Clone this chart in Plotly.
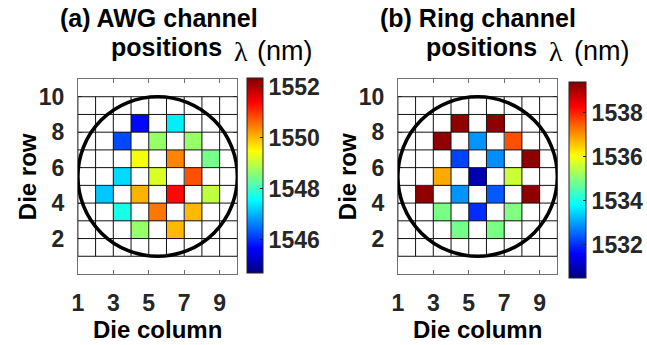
import plotly.graph_objects as go

# Die positions on the wafer (left edge of each die cell)
die_col = [4, 6, 3, 5, 7, 4, 6, 8, 3, 5, 7, 2, 4, 6, 8, 3, 5, 7, 4, 6]
die_row = [8, 8, 7, 7, 7, 6, 6, 6, 5, 5, 5, 4, 4, 4, 4, 3, 3, 3, 2, 2]

# Measured channel wavelengths (nm) per die
awg_lambda = [1545.7, 1547.45, 1546.2, 1548.7, 1548.7,
              1549.4, 1550.4, 1548.45,
              1547.3, 1549.2, 1550.8,
              1547.15, 1550.05, 1551.35, 1549.0,
              1547.75, 1550.5, 1550.0,
              1548.7, 1550.0]
ring_lambda = [1539.25, 1539.25, 1539.25, 1532.9, 1537.6,
               1532.2, 1532.85, 1539.25,
               1536.8, 1530.95, 1535.6,
               1539.25, 1532.9, 1532.4, 1539.25,
               1534.9, 1532.0, 1534.95,
               1534.85, 1534.9]

col_ticks = [1, 3, 5, 7, 9]
row_ticks = [2, 4, 6, 8, 10]
cbar_ticks_awg = [1546, 1548, 1550, 1552]
cbar_ticks_ring = [1532, 1534, 1536, 1538]
awg_crange = [1544.7, 1552.35]
ring_crange = [1530.5, 1539.4]

N = 9  # dies per side of the grid
edges = list(range(1, N + 2))

JET = [[0.0, "rgb(0,0,128)"], [0.125, "rgb(0,0,255)"], [0.375, "rgb(0,255,255)"],
       [0.625, "rgb(255,255,0)"], [0.875, "rgb(255,0,0)"], [1.0, "rgb(128,0,0)"]]

W, H = 647, 345
FONT = "Liberation Sans, Arial, sans-serif"
SERIF = "Liberation Serif, Times New Roman, serif"
TICK_COLOR = "#262626"
TICK_SIZE = 23


def to_grid(values):
    z = [[None] * N for _ in range(N)]
    for c, r, v in zip(die_col, die_row, values):
        z[r - 1][c - 1] = v
    return z


fig = go.Figure()

panels = [
    dict(vals=awg_lambda, crange=awg_crange, cticks=cbar_ticks_awg,
         xdom=(73, 235), cb_x=245, cb_top=78, cb_bot=273, cb_th=16,
         t1="(a) AWG channel", t1x=155.5, t2x=163.5, lamx=230, nmx=253),
    dict(vals=ring_lambda, crange=ring_crange, cticks=cbar_ticks_ring,
         xdom=(398, 560), cb_x=572, cb_top=82, cb_bot=278, cb_th=17,
         t1="(b) Ring channel", t1x=479, t2x=483, lamx=550, nmx=575),
]

ax_top, ax_bot = 79, 274
annotations = []
shapes = []

for i, p in enumerate(panels):
    xa = "x" if i == 0 else "x2"
    ya = "y" if i == 0 else "y2"
    cb_len = p["cb_bot"] - p["cb_top"]
    fig.add_trace(go.Heatmap(
        x=edges, y=edges, z=to_grid(p["vals"]),
        colorscale=JET, zmin=p["crange"][0], zmax=p["crange"][1],
        xaxis=xa, yaxis=ya, hoverongaps=False,
        colorbar=dict(
            x=p["cb_x"] / W, xanchor="left", xpad=0, ypad=0,
            y=1 - (p["cb_top"] + p["cb_bot"]) / 2 / H, yanchor="middle",
            len=cb_len, lenmode="pixels",
            thickness=p["cb_th"], thicknessmode="pixels",
            outlinecolor="#222", outlinewidth=1,
            tickvals=p["cticks"], ticks="inside", ticklen=3, tickcolor="#222",
            tickfont=dict(family=FONT, size=TICK_SIZE, color=TICK_COLOR, weight="bold"),
        ),
    ))

    # die grid lines
    for v in edges:
        shapes.append(dict(type="line", xref=xa, yref=ya, x0=v, x1=v,
                           y0=edges[0], y1=edges[-1],
                           line=dict(color="#111", width=1), layer="above"))
        shapes.append(dict(type="line", xref=xa, yref=ya, y0=v, y1=v,
                           x0=edges[0], x1=edges[-1],
                           line=dict(color="#111", width=1), layer="above"))
    # wafer outline
    shapes.append(dict(type="circle", xref=xa, yref=ya,
                       x0=edges[0], x1=edges[-1], y0=edges[0], y1=edges[-1],
                       line=dict(color="black", width=3.6), layer="above"))

    xc = (p["xdom"][0] + p["xdom"][1]) / 2
    title_font = dict(family=FONT, size=25, color="black", weight="bold")
    label_font = dict(family=FONT, size=24, color="black", weight="bold")
    annotations += [
        dict(text=p["t1"], x=p["t1x"] / W, y=1 - 18 / H, xref="paper", yref="paper",
             xanchor="center", yanchor="middle", showarrow=False, font=title_font),
        dict(text="positions", x=p["t2x"] / W, y=1 - 47 / H, xref="paper", yref="paper",
             xanchor="center", yanchor="middle", showarrow=False, font=title_font),
        dict(text="λ", x=p["lamx"] / W, y=1 - 52 / H, xref="paper", yref="paper",
             xanchor="left", yanchor="middle", showarrow=False,
             font=dict(family=SERIF, size=28, color="black")),
        dict(text="(nm)", x=p["nmx"] / W, y=1 - 51 / H, xref="paper", yref="paper",
             xanchor="left", yanchor="middle", showarrow=False,
             font=dict(family=FONT, size=27, color="black")),
        dict(text="Die column", x=xc / W, y=1 - 329 / H, xref="paper", yref="paper",
             xanchor="center", yanchor="middle", showarrow=False, font=label_font),
        dict(text="Die row", x=(p["xdom"][0] - 51) / W, y=1 - (ax_top + ax_bot) / 2 / H,
             xref="paper", yref="paper", textangle=-90,
             xanchor="center", yanchor="middle", showarrow=False, font=label_font),
    ]

axis_common = dict(showgrid=False, zeroline=False, showline=True, mirror="ticks",
                   linecolor="#707070", linewidth=1, ticks="inside", ticklen=4,
                   tickcolor="#707070",
                   tickfont=dict(family=FONT, size=TICK_SIZE, color=TICK_COLOR, weight="bold"))

ydom = [1 - ax_bot / H, 1 - ax_top / H]
for i, p in enumerate(panels):
    sfx = "" if i == 0 else "2"
    fig.layout["xaxis" + sfx] = dict(
        axis_common, domain=[p["xdom"][0] / W, p["xdom"][1] / W],
        range=[edges[0], edges[-1]], tickvals=col_ticks, ticklabelstandoff=8,
        anchor="y" + sfx)
    fig.layout["yaxis" + sfx] = dict(
        axis_common, domain=ydom, range=[0, N + 2], tickvals=row_ticks,
        ticklabelstandoff=8, anchor="x" + sfx)

fig.update_layout(
    width=W, height=H, margin=dict(l=0, r=0, t=0, b=0),
    paper_bgcolor="white", plot_bgcolor="white",
    shapes=shapes, annotations=annotations, showlegend=False,
)

fig.write_html("out.html")
